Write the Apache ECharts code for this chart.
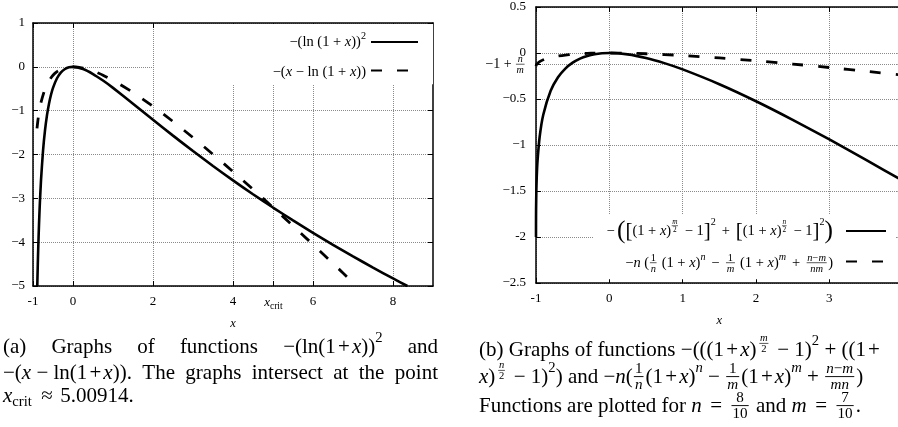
<!DOCTYPE html>
<html><head><meta charset="utf-8">
<script src="https://cdn.jsdelivr.net/npm/echarts@6/dist/echarts.min.js"></script>
<style>html,body{margin:0;padding:0;background:#fff}#c{width:898px;height:427px}</style>
</head><body><div id="c"></div>
<script>
// ---------- data ----------
const solidAX = [-0.893,-0.89,-0.88,-0.87,-0.85,-0.83,-0.8,-0.75,-0.7,-0.65,-0.6,-0.55,-0.5,-0.4,-0.3,-0.2,-0.1,0,0.25,0.5,0.75,1,1.5,2,2.5,3,3.5,4,4.5,5,5.5,6,6.5,7,7.5,8,8.36];
const solidAY = [-5.0,-4.872,-4.496,-4.163,-3.599,-3.140,-2.590,-1.922,-1.450,-1.102,-0.840,-0.638,-0.480,-0.261,-0.127,-0.050,-0.011,0,-0.050,-0.164,-0.313,-0.480,-0.840,-1.207,-1.569,-1.922,-2.262,-2.590,-2.906,-3.210,-3.504,-3.787,-4.060,-4.324,-4.580,-4.828,-5.0];
const dashedAX = [-0.9,-0.875,-0.85,-0.8,-0.7,-0.6,-0.5,-0.4,-0.3,-0.2,-0.1,0,0.25,0.5,0.75,1,1.5,2,2.5,3,3.5,4,4.5,5,5.5,6,6.5,7,7.09];
const dashedAY = [-1.403,-1.204,-1.047,-0.809,-0.504,-0.316,-0.193,-0.111,-0.057,-0.023,-0.005,0,-0.027,-0.095,-0.190,-0.307,-0.584,-0.901,-1.247,-1.614,-1.996,-2.391,-2.795,-3.208,-3.628,-4.054,-4.485,-4.921,-5.0];
const solidBX = [-1,-0.9999,-0.999,-0.995,-0.99,-0.98,-0.95,-0.9,-0.8,-0.7,-0.6,-0.5,-0.4,-0.3,-0.2,-0.1,0,0.25,0.5,0.75,1,1.5,2,2.5,3,3.5,4,4.5];
const solidBY = [-2,-1.872,-1.708,-1.486,-1.349,-1.182,-0.910,-0.668,-0.411,-0.264,-0.169,-0.105,-0.061,-0.032,-0.013,-0.003,0,-0.015,-0.054,-0.110,-0.178,-0.339,-0.524,-0.726,-0.939,-1.161,-1.389,-1.621];
const dashedBX = [-1,-0.999,-0.99,-0.95,-0.9,-0.8,-0.7,-0.6,-0.5,-0.4,-0.3,-0.2,-0.1,0,0.25,0.5,1,1.5,2,2.5,3,3.5,4];
const dashedBY = [-0.143,-0.138,-0.122,-0.094,-0.073,-0.048,-0.033,-0.022,-0.014,-0.008,-0.004,-0.002,-0.0004,0,-0.002,-0.008,-0.027,-0.054,-0.085,-0.120,-0.158,-0.199,-0.241];

const leftXTicks = [-1,0,2,4,5.00914,6,8];
const leftXLabels = ['-1','0','2','4','{i|x}{s|crit}','6','8'];
const leftYTicks = [1,0,-1,-2,-3,-4,-5];
const leftYLabels = ['1','0','−1','−2','−3','−4','−5'];
const rightXTicks = [-1,0,1,2,3,4];
const rightXLabels = ['-1','0','1','2','3','4'];
const rightYTicks = [0.5,0,-0.125,-0.5,-1,-1.5,-2,-2.5];
const rightYLabels = ['0.5','0','','−0.5','−1','−1.5','-2','−2.5'];

const nameA1 = '−(ln(1+x))²';
const nameA2 = '−(x−ln(1+x))';
const nameB1 = '−([(1+x)^(m/2)−1]²+[(1+x)^(n/2)−1]²)';
const nameB2 = '−n((1/n)(1+x)^n−(1/m)(1+x)^m+(n−m)/(nm))';

// ---------- helpers ----------
const FAM = "'Liberation Serif','DejaVu Serif',serif";
const zip = (xs, ys) => xs.map((x, i) => [x, ys[i]]);
const lab = (ticks, labels) => v => { const i = ticks.findIndex(t => Math.abs(t - v) < 1e-6); return i < 0 ? '' : labels[i]; };
const cv = document.createElement('canvas').getContext('2d');
function mw(s, size, it) { cv.font = (it ? 'italic ' : '') + size + 'px ' + FAM; return cv.measureText(s).width; }
const R = (s, sz) => ({ s, it: false, sz: sz || 1 });
const I = (s, sz) => ({ s, it: true, sz: sz || 1 });
const SUP = (g, dy) => ({ grp: g, k: 0.7, dy: dy === undefined ? -0.4 : dy });
const SUB = (g) => ({ grp: g, k: 0.7, dy: 0.28 });
const FR = (n, d) => ({ fr: [n, d], k: 0.72 });
const SP = (w) => ({ sp: w });
const J = { j: true };
function shift(it, dx, dy) { if (it.ln) return { ln: true, x1: it.x1 + dx, x2: it.x2 + dx, y: it.y + dy, lw: it.lw }; return Object.assign({}, it, { x: it.x + dx, y: it.y + dy }); }
function build(toks, base, extra) {
  let x = 0; const items = [];
  for (const t of toks) {
    if (t.j) { x += base * 0.25 + (extra || 0); }
    else if (t.sp !== undefined) { x += t.sp * base; }
    else if (t.grp) { const b = build(t.grp, base * t.k); b.items.forEach(it => items.push(shift(it, x, t.dy * base))); x += b.w; }
    else if (t.fr) {
      const s = base * t.k; const n = build(t.fr[0], s), d = build(t.fr[1], s);
      const w = Math.max(n.w, d.w) + base * 0.2; const ax = -0.02 * base;
      n.items.forEach(it => items.push(shift(it, x + (w - n.w) / 2, ax - s * 0.47)));
      d.items.forEach(it => items.push(shift(it, x + (w - d.w) / 2, ax + s * 0.58)));
      items.push({ ln: true, x1: x + base * 0.05, x2: x + w - base * 0.05, y: ax, lw: Math.max(0.6, base * 0.045) });
      x += w + base * 0.05;
    } else { const size = base * t.sz; items.push({ x, y: 0, s: t.s, size, it: t.it }); x += mw(t.s, size, t.it); }
  }
  return { w: x, items };
}
function place(toks, o) {
  let b = build(toks, o.size, 0);
  if (o.justify) { const nj = toks.filter(t => t.j).length; if (nj) b = build(toks, o.size, (o.justify - b.w) / nj); }
  const x0 = o.anchor === 'right' ? o.x - b.w : o.x;
  return b.items.map(it => it.ln
    ? { type: 'line', z: 100, silent: true, shape: { x1: x0 + it.x1, y1: o.y + it.y, x2: x0 + it.x2, y2: o.y + it.y }, style: { stroke: '#000', lineWidth: it.lw } }
    : { type: 'text', z: 100, silent: true, x: x0 + it.x, y: o.y + it.y, style: { text: it.s, fontSize: it.size, fontFamily: FAM, fontStyle: it.it ? 'italic' : 'normal', fill: '#000', align: 'left', verticalAlign: 'middle' } });
}

// ---------- chart ----------
const chart = echarts.init(document.getElementById('c'));
const AXC = '#000';
const gridLine = { show: true, lineStyle: { type: 'dotted', color: '#8a8a8a', width: 1 } };
const lblStyle = { color: '#000', fontFamily: FAM, fontSize: 13 };
function xAx(grid, min, max, ticks, labels, pos, main) {
  return {
    gridIndex: grid, type: 'value', min, max, position: pos,
    axisLine: { show: true, onZero: false, lineStyle: { color: AXC, width: 1.5 } },
    axisTick: { show: true, inside: true, length: 5, customValues: ticks, lineStyle: { color: AXC, width: 1 } },
    axisLabel: main ? Object.assign({ show: true, customValues: ticks, formatter: lab(ticks, labels), margin: 9,
      rich: { i: { fontStyle: 'italic', fontFamily: FAM, fontSize: 13, color: '#000' }, s: { fontFamily: FAM, fontSize: 9.5, color: '#000', padding: [6, 0, 0, 0] } } }, lblStyle) : { show: false },
    splitLine: main ? gridLine : { show: false },
    name: main ? 'x' : '', nameLocation: 'middle', nameGap: 31,
    nameTextStyle: { fontStyle: 'italic', fontFamily: FAM, fontSize: 12.5, color: '#000' }
  };
}
function yAx(grid, min, max, ticks, labels, pos, main, margin) {
  return {
    gridIndex: grid, type: 'value', min, max, position: pos,
    axisLine: { show: true, onZero: false, lineStyle: { color: AXC, width: 1.5 } },
    axisTick: { show: true, inside: true, length: 5, customValues: ticks, lineStyle: { color: AXC, width: 1 } },
    axisLabel: main ? Object.assign({ show: true, customValues: ticks, formatter: lab(ticks, labels), margin }, lblStyle) : { show: false },
    splitLine: main ? gridLine : { show: false }
  };
}
const noSym = { color: 'rgba(0,0,0,0)', borderWidth: 0 };
const option = {
  animation: false,
  backgroundColor: '#fff',
  grid: [
    { left: 33, top: 23, width: 400, height: 263, outerBoundsMode: 'none', containLabel: false },
    { left: 536, top: 7, width: 366.7, height: 276, outerBoundsMode: 'none', containLabel: false }
  ],
  xAxis: [
    xAx(0, -1, 9, leftXTicks, leftXLabels, 'bottom', true),
    xAx(0, -1, 9, leftXTicks, leftXLabels, 'top', false),
    xAx(1, -1, 4, rightXTicks, rightXLabels, 'bottom', true),
    xAx(1, -1, 4, rightXTicks, rightXLabels, 'top', false)
  ],
  yAxis: [
    yAx(0, -5, 1, leftYTicks, leftYLabels, 'left', true, 8),
    yAx(0, -5, 1, leftYTicks, leftYLabels, 'right', false),
    yAx(1, -2.5, 0.5, rightYTicks, rightYLabels, 'left', true, 10),
    yAx(1, -2.5, 0.5, rightYTicks, rightYLabels, 'right', false)
  ],
  legend: [
    { data: [nameA1, nameA2], orient: 'vertical', align: 'left', left: 155, top: 24, padding: [11, 14, 8, 215],
      itemWidth: 47, itemHeight: 14, itemGap: 16, backgroundColor: '#fff', formatter: () => '', selectedMode: false, z: 5 },
    { data: [nameB1, nameB2], orient: 'vertical', align: 'left', left: 593, top: 214, padding: [10, 8, 12, 252],
      itemWidth: 40, itemHeight: 14, itemGap: 18, backgroundColor: '#fff', formatter: () => '', selectedMode: false, z: 5 }
  ],
  series: [
    { name: nameA1, type: 'line', xAxisIndex: 0, yAxisIndex: 0, data: zip(solidAX, solidAY), symbol: 'none', smooth: 0.2, clip: true,
      lineStyle: { color: '#000', width: 2.6, type: 'solid' }, itemStyle: noSym },
    { name: nameA2, type: 'line', xAxisIndex: 0, yAxisIndex: 0, data: zip(dashedAX, dashedAY), symbol: 'none', smooth: 0.2, clip: true,
      lineStyle: { color: '#000', width: 2.8, type: [11, 15] }, itemStyle: noSym },
    { name: nameB1, type: 'line', xAxisIndex: 2, yAxisIndex: 2, data: zip(solidBX, solidBY), symbol: 'none', smooth: 0.2, clip: true,
      lineStyle: { color: '#000', width: 2.6, type: 'solid' }, itemStyle: noSym },
    { name: nameB2, type: 'line', xAxisIndex: 2, yAxisIndex: 2, data: zip(dashedBX, dashedBY), symbol: 'none', smooth: 0.2, clip: true,
      lineStyle: { color: '#000', width: 2.8, type: [11, 15] }, itemStyle: noSym }
  ]
};
chart.setOption(option);

// ---------- text overlays (legend formulas, special tick label, captions) ----------
const els = [];
const LS = 14.5;
els.push(...place([R('−(ln (1 + '), I('x'), R('))'), SUP([R('2')])], { x: 366, y: 42, size: LS, anchor: 'right' }));
els.push(...place([R('−('), I('x'), R(' − ln (1 + '), I('x'), R('))')], { x: 366, y: 72, size: LS, anchor: 'right' }));
const bigP = 1.75, bigB = 1.45, s1 = SP(0.15);
els.push(...place([R('−'), s1, R('(', bigP), R('[', bigB), R('(1 + '), I('x'), R(')'), SUP([FR([I('m')], [R('2')])], -0.35), s1, R(' − 1'), R(']', bigB), SUP([R('2')], -0.6),
  s1, R(' + '), s1, R('[', bigB), R('(1 + '), I('x'), R(')'), SUP([FR([I('n')], [R('2')])], -0.35), s1, R(' − 1'), R(']', bigB), SUP([R('2')], -0.6), R(')', bigP)],
  { x: 833, y: 231, size: LS, anchor: 'right' }));
const s2 = SP(0.15);
els.push(...place([R('−'), I('n'), R(' ('), FR([R('1')], [I('n')]), R(' (1 + '), I('x'), R(')'), SUP([I('n')]), s2, R(' − '), s2, FR([R('1')], [I('m')]),
  R(' (1 + '), I('x'), R(')'), SUP([I('m')]), s2, R(' + '), s2, FR([I('n'), R('−'), I('m')], [I('nm')]), R(')')],
  { x: 833, y: 263, size: LS, anchor: 'right' }));
const yCrit = chart.convertToPixel({ yAxisIndex: 2 }, -0.125);
els.push(...place([R('−1 + '), FR([I('n')], [I('m')])], { x: 526, y: yCrit, size: 14, anchor: 'right' }));

const CS = 21, tp = SP(0.1);
els.push(...place([R('(a)'), J, R('Graphs'), J, R('of'), J, R('functions'), J, R('−(ln(1'), tp, R('+'), tp, I('x'), R('))'), SUP([R('2')]), J, R('and')],
  { x: 3, y: 347, size: CS, justify: 435 }));
els.push(...place([R('−('), I('x'), R(' − ln(1'), tp, R('+'), tp, I('x'), R(')).'), J, R('The'), J, R('graphs'), J, R('intersect'), J, R('at'), J, R('the'), J, R('point')],
  { x: 3, y: 373, size: CS, justify: 435 }));
els.push(...place([I('x'), SUB([R('crit')]), SP(0.2), R(' ≈ '), SP(0.1), R('5.00914.')], { x: 3, y: 396, size: CS }));

const CX = 479;
els.push(...place([R('(b) Graphs of functions −(((1'), tp, R('+'), tp, I('x'), R(')'), SP(0.1), SUP([FR([I('m')], [R('2')])], -0.3), SP(0.1), R(' − 1)'), SUP([R('2')]), R(' + ((1'), tp, R('+')],
  { x: CX, y: 350, size: CS }));
els.push(...place([I('x'), R(')'), SP(0.1), SUP([FR([I('n')], [R('2')])], -0.3), SP(0.1), R(' − 1)'), SUP([R('2')]), R(') and −'), I('n'), R('('), FR([R('1')], [I('n')]), R('(1'), tp, R('+'), tp, I('x'), R(')'), SUP([I('n')]),
  R(' − '), FR([R('1')], [I('m')]), R('(1'), tp, R('+'), tp, I('x'), R(')'), SUP([I('m')]), R(' + '), FR([I('n'), R('−'), I('m')], [I('mn')]), R(')')],
  { x: CX, y: 377, size: CS }));
els.push(...place([R('Functions are plotted for '), I('n'), SP(0.15), R(' = '), SP(0.15), FR([R('8')], [R('10')]), R(' and '), I('m'), SP(0.15), R(' = '), SP(0.15), FR([R('7')], [R('10')]), R('.')],
  { x: CX, y: 406, size: CS }));

chart.setOption({ graphic: { elements: els } });
</script></body></html>
